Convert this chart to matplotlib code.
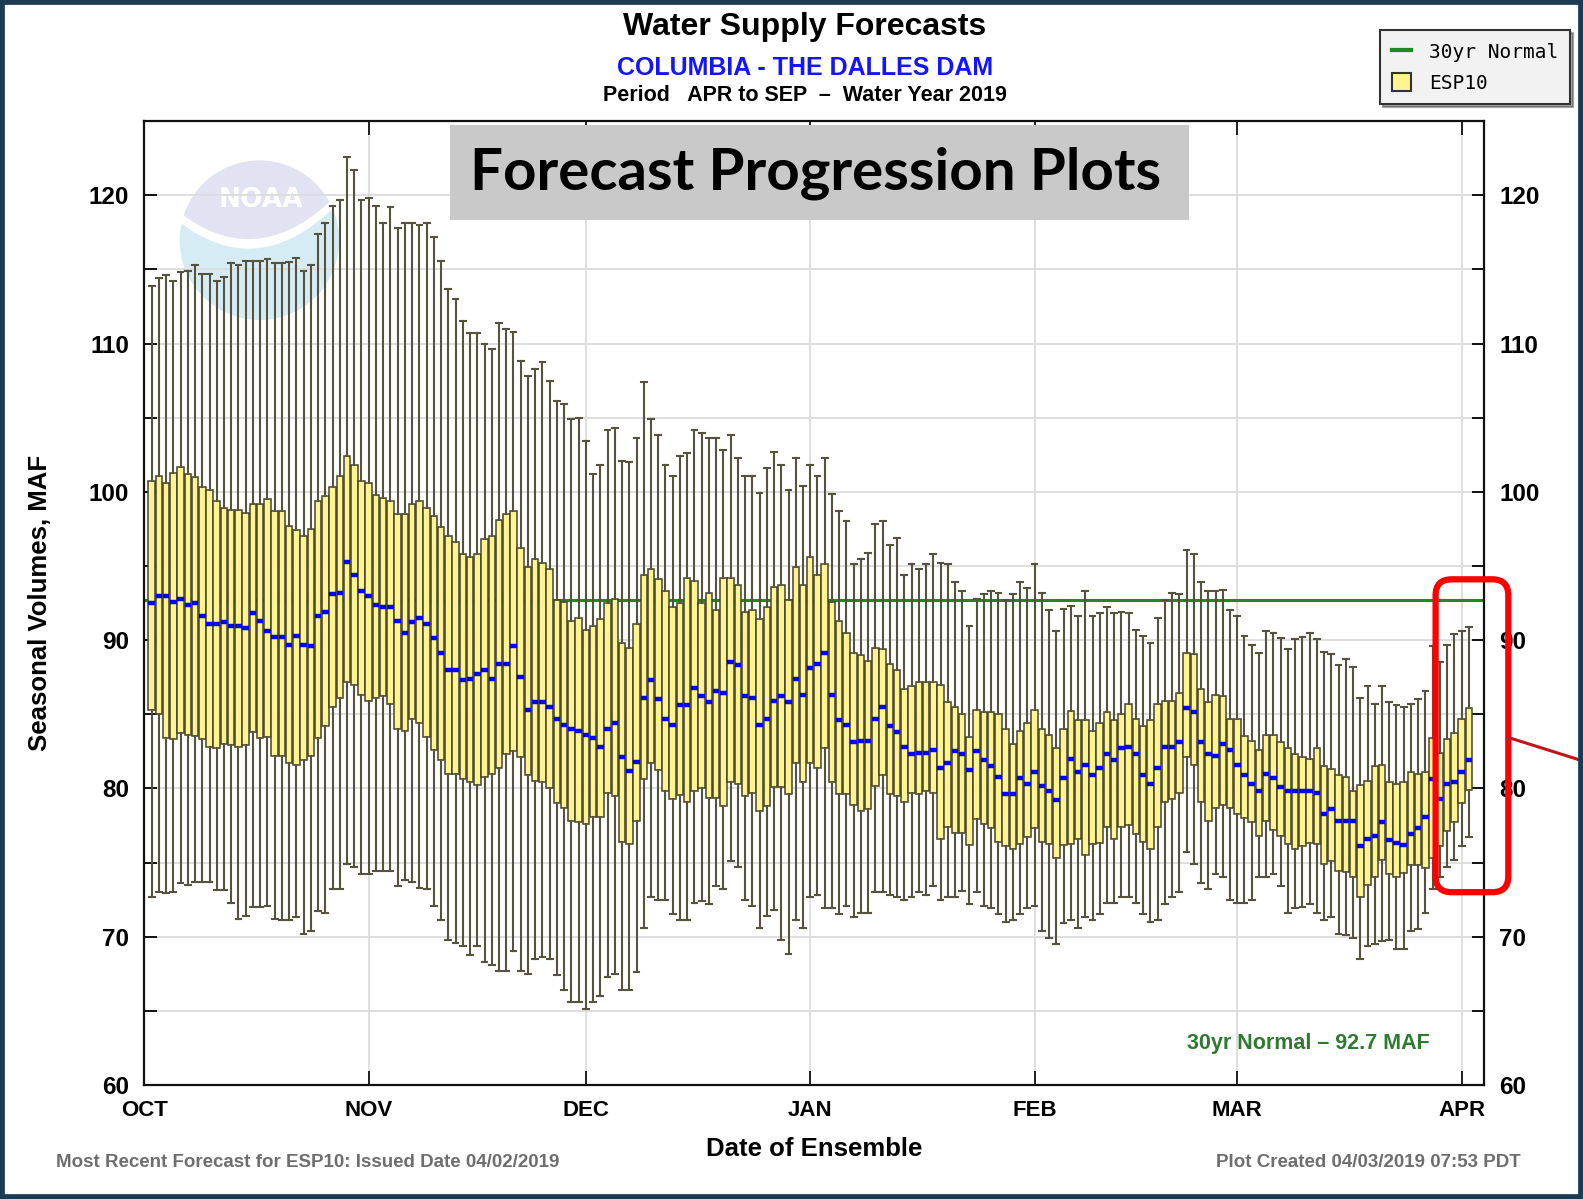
import numpy as np
import pandas as pd
import matplotlib
matplotlib.use('Agg')
import matplotlib.pyplot as plt
import matplotlib.dates as mdates
from matplotlib.patches import Rectangle, FancyBboxPatch, Circle, Patch
from matplotlib.lines import Line2D
from matplotlib.ticker import FixedLocator, MultipleLocator
from matplotlib import font_manager
from matplotlib.transforms import IdentityTransform

# ---------------- data (one value per daily ESP10 ensemble, Oct 2 2018 .. Apr 2 2019) ----------------
start_date = '2018-10-02'
normal_30yr = 92.7

whisker_high = [
    113.9, 114.4, 114.6, 114.2, 114.8, 114.9, 115.3, 114.7, 114.7, 114.2, 114.5, 115.4, 115.3, 115.55,
    115.55, 115.55, 115.7, 115.4, 115.4, 115.5, 115.8, 114.9, 115.3, 117.4, 118.1, 119.3, 119.7,
    122.6, 121.7, 119.7, 119.8, 119.3, 118.1, 119.2, 117.8, 118.1, 118.1, 118.0, 118.1, 117.2, 115.55,
    113.7, 113.0, 111.55, 110.7, 110.7, 110.0, 109.6, 111.4, 111.0, 110.8, 108.8, 107.8,
    108.3, 108.75, 107.5, 106.1, 105.9, 104.9, 105.0, 103.45, 101.2, 101.8, 104.2, 104.3, 102.1, 102.0,
    103.6, 107.4, 104.9, 103.8, 101.8, 101.05, 102.4, 102.65, 104.2, 104.0, 103.6, 103.6, 102.8, 103.8,
    102.3, 101.1, 101.1, 99.9, 101.6, 102.7, 101.8, 100.1, 102.3, 100.4, 101.8, 101.1, 102.3, 99.85,
    98.7, 98.0, 95.1, 95.5, 95.9, 97.8, 98.0, 96.4, 96.9, 94.4, 95.1, 94.8,
    95.1, 95.8, 95.2, 95.1, 93.9, 93.3, 90.95, 92.8, 93.1, 93.3, 93.2, 92.7, 93.1, 93.9, 93.5, 95.1,
    93.2, 92.0, 90.6, 92.1, 92.3, 91.6, 93.3, 91.6, 91.8, 92.2, 91.8,
    91.9, 91.8, 90.7, 90.3, 89.8, 91.5, 92.7, 93.2, 93.1, 96.1, 95.8, 93.9, 93.3, 93.3, 93.4, 92.0,
    91.6, 90.3, 89.7, 89.1, 90.6, 90.5, 90.15, 89.4, 90.1, 90.2, 90.45,
    90.1, 89.2, 89.05, 88.3, 88.7, 88.2, 86.1, 86.9, 85.7, 86.9, 85.8, 85.6, 85.5, 85.7, 86.0, 86.6,
    89.6, 88.5, 89.7, 90.4, 90.6, 90.9,
]
box_high = [
    100.7, 101.1, 100.6, 101.25, 101.7, 101.2, 101.0, 100.3, 100.1, 99.4, 98.9, 98.8, 98.8, 98.6,
    99.2, 99.2, 99.5, 98.7, 98.7, 97.7, 97.4, 97.0, 97.5, 99.4, 99.7, 100.3, 101.1,
    102.4, 101.8, 100.7, 100.6, 99.8, 99.55, 99.4, 98.5, 98.5, 99.2, 99.35, 98.9, 98.4, 97.6, 97.0,
    96.6, 95.8, 95.6, 95.8, 96.85, 97.0, 98.1, 98.5, 98.7, 96.2, 94.9,
    95.5, 95.2, 94.8, 92.7, 92.6, 91.3, 91.5, 90.7, 90.95, 91.4, 92.5, 92.8, 89.8, 89.5, 91.1, 94.4,
    94.8, 94.1, 93.3, 92.2, 92.5, 94.2, 94.0, 92.5, 93.2, 92.0, 94.2, 94.2,
    93.7, 91.9, 92.0, 91.4, 92.2, 93.6, 93.7, 92.7, 94.9, 93.7, 95.6, 94.4, 95.1, 92.6, 91.3, 90.5,
    89.1, 89.0, 88.6, 89.5, 89.4, 88.4, 88.0, 86.7, 86.9, 87.2,
    87.2, 87.2, 87.0, 85.8, 85.5, 85.0, 83.45, 85.3, 85.15, 85.15, 85.0, 84.0, 83.0, 83.9, 84.4, 85.3,
    84.0, 83.6, 82.7, 84.0, 85.2, 84.6, 84.6, 83.9, 84.4, 85.15, 84.6,
    85.0, 85.7, 84.7, 84.2, 84.6, 85.7, 85.9, 85.9, 86.4, 89.1, 89.05, 86.7, 85.8, 86.3, 86.2, 84.7,
    84.7, 83.5, 83.2, 82.6, 83.6, 83.6, 83.1, 82.7, 82.3, 82.1, 82.0,
    82.7, 81.5, 81.3, 80.9, 80.8, 79.85, 80.2, 80.5, 81.5, 81.6, 80.4, 80.3, 80.4, 81.1, 81.0, 81.1,
    83.4, 82.4, 83.3, 83.75, 84.7, 85.4,
]
median = [
    92.5, 93.0, 93.0, 92.6, 92.8, 92.4, 92.5, 91.6, 91.1, 91.1, 91.2, 90.95, 90.95, 90.8, 91.8, 91.3,
    90.6, 90.2, 90.2, 89.7, 90.3, 89.7, 89.6, 91.6, 91.9, 93.1, 93.2,
    95.3, 94.4, 93.3, 93.0, 92.4, 92.2, 92.2, 91.3, 90.5, 91.2, 91.5, 91.1, 90.15, 89.1, 88.0, 88.0,
    87.3, 87.4, 87.7, 88.0, 87.4, 88.4, 88.4, 89.6, 87.5, 85.3,
    85.8, 85.8, 85.5, 84.7, 84.3, 84.0, 83.9, 83.6, 83.4, 82.8, 84.0, 84.4, 82.1, 81.2, 81.8, 86.1,
    87.3, 86.0, 84.7, 84.3, 85.6, 85.6, 86.8, 86.2, 85.8, 86.6, 86.4, 88.5,
    88.3, 86.2, 86.1, 84.3, 84.7, 85.9, 86.2, 85.8, 87.4, 86.3, 88.1, 88.4, 89.1, 86.3, 84.6, 84.3,
    83.1, 83.2, 83.2, 84.7, 85.5, 84.2, 83.8, 82.8, 82.3, 82.4,
    82.4, 82.6, 81.4, 81.7, 82.5, 82.3, 81.25, 82.5, 81.9, 81.5, 80.8, 79.6, 79.6, 80.7, 80.3, 81.1,
    80.15, 79.85, 79.2, 80.7, 82.0, 81.1, 81.6, 80.9, 81.4, 82.3, 81.9,
    82.7, 82.8, 82.3, 80.9, 80.3, 81.4, 82.8, 82.8, 83.1, 85.4, 85.15, 83.1, 82.3, 82.2, 83.0, 82.6,
    81.6, 80.9, 80.3, 79.85, 81.0, 80.7, 80.1, 79.85, 79.85, 79.85, 79.85,
    79.7, 78.3, 78.6, 77.8, 77.8, 77.8, 76.1, 76.6, 76.8, 77.7, 76.5, 76.3, 76.2, 76.9, 77.3, 78.1,
    80.6, 79.3, 80.3, 80.4, 81.1, 81.9,
]
box_low = [
    85.3, 85.0, 83.4, 83.3, 83.75, 83.6, 83.5, 83.3, 82.8, 82.7, 83.0, 82.95, 82.8, 82.9, 83.8, 83.4,
    83.45, 82.2, 82.2, 81.7, 81.55, 81.9, 82.2, 83.4, 84.2, 85.5, 86.1,
    87.2, 87.0, 86.3, 85.9, 86.1, 86.2, 85.7, 84.0, 83.9, 84.7, 84.4, 83.45, 82.6, 81.9, 81.0, 81.0,
    80.6, 80.4, 80.2, 80.8, 81.0, 81.4, 82.3, 82.5, 82.1, 80.9,
    80.5, 80.4, 80.0, 79.0, 78.7, 77.8, 77.7, 77.6, 78.1, 78.1, 79.7, 79.5, 76.4, 76.25, 77.8, 80.6,
    81.7, 81.25, 79.85, 79.3, 79.55, 79.1, 79.85, 80.0, 79.35, 79.35, 78.8, 80.4,
    80.3, 79.5, 79.7, 78.5, 78.8, 80.1, 80.1, 79.6, 81.7, 80.4, 81.7, 81.4, 82.7, 80.4, 79.6, 79.6,
    78.9, 78.5, 78.6, 80.15, 80.9, 79.6, 79.5, 79.1, 79.7, 79.6,
    79.85, 79.7, 76.6, 77.4, 77.0, 77.0, 76.2, 77.95, 77.6, 77.3, 76.4, 76.1, 75.9, 76.25, 76.7, 77.3,
    76.4, 76.25, 75.3, 76.2, 76.25, 76.6, 75.5, 76.25, 76.3, 77.4, 76.6,
    77.4, 77.5, 76.9, 76.4, 75.9, 77.4, 79.1, 79.3, 79.7, 82.1, 81.6, 79.1, 77.8, 78.7, 78.9, 78.7,
    78.3, 78.0, 77.7, 76.8, 77.8, 77.2, 76.8, 76.25, 75.9, 76.1, 76.3,
    76.25, 74.9, 75.1, 74.4, 74.35, 74.0, 72.65, 73.5, 74.0, 75.2, 74.2, 74.0, 74.3, 74.8, 74.8, 74.6,
    75.3, 76.1, 77.1, 77.75, 79.0, 79.9,
]
whisker_low = [
    72.65, 73.0, 72.95, 73.0, 73.6, 73.5, 73.7, 73.7, 73.7, 73.15, 73.15, 72.3, 71.2, 71.4, 72.0, 72.0,
    72.1, 71.2, 71.1, 71.1, 71.3, 70.2, 70.4, 71.7, 71.6, 73.2, 73.2,
    74.9, 74.7, 74.2, 74.2, 74.4, 74.4, 74.4, 73.4, 73.8, 73.7, 73.3, 73.2, 72.1, 71.1, 69.8, 69.6,
    69.4, 68.75, 69.4, 68.3, 68.1, 67.7, 67.7, 69.05, 67.7, 67.5,
    68.5, 68.6, 68.5, 67.4, 66.4, 65.6, 65.6, 65.1, 65.6, 66.0, 67.3, 67.5, 66.4, 66.4, 67.6, 70.6,
    72.65, 72.5, 72.5, 71.5, 71.1, 71.1, 72.3, 72.4, 72.2, 73.4, 73.2, 75.1,
    74.7, 72.5, 72.1, 70.6, 71.4, 71.8, 69.8, 68.8, 71.1, 70.6, 72.7, 72.8, 71.9, 71.9, 71.5, 72.1,
    71.3, 71.6, 71.6, 73.0, 73.0, 72.8, 72.7, 72.5, 72.7, 73.0,
    72.8, 73.4, 72.5, 72.7, 72.7, 73.1, 72.2, 73.0, 72.1, 71.9, 71.5, 71.0, 71.1, 71.5, 71.9, 72.1,
    70.4, 69.9, 69.5, 70.95, 71.1, 70.6, 71.3, 71.1, 71.5, 72.3, 72.3,
    72.65, 72.7, 72.3, 71.5, 71.0, 71.1, 72.2, 72.65, 73.0, 75.7, 74.9, 73.6, 73.2, 74.2, 74.05, 72.5,
    72.3, 72.3, 72.5, 74.0, 74.0, 74.2, 73.4, 71.6, 71.9, 72.0, 72.2,
    71.6, 71.1, 71.3, 70.2, 70.1, 69.9, 68.5, 69.4, 69.5, 69.7, 69.8, 69.2, 69.2, 70.4, 70.5, 71.6,
    73.2, 74.0, 74.7, 75.2, 76.1, 76.7,
]

month_starts = ['2018-10-01', '2018-11-01', '2018-12-01', '2019-01-01',
                '2019-02-01', '2019-03-01', '2019-04-01']
month_labels = ['OCT', 'NOV', 'DEC', 'JAN', 'FEB', 'MAR', 'APR']
y_major = [60, 70, 80, 90, 100, 110, 120]

title_text = 'Water Supply Forecasts'
station_text = 'COLUMBIA - THE DALLES DAM'
period_text = 'Period   APR to SEP  \u2013  Water Year 2019'
ylabel_text = 'Seasonal Volumes, MAF'
xlabel_text = 'Date of Ensemble'
footer_left = 'Most Recent Forecast for ESP10: Issued Date 04/02/2019'
footer_right = 'Plot Created 04/03/2019 07:53 PDT'
normal_label = '30yr Normal \u2013 92.7 MAF'
overlay_text = 'Forecast Progression Plots'
legend_labels = ['30yr Normal', 'ESP10']

# ---------------- style ----------------
plt.rcParams['font.family'] = ['Liberation Sans', 'DejaVu Sans']
plt.rcParams['font.weight'] = 'bold'

W, H = 1583, 1199
SW, SH = 1568.0, 1188.0   # reference layout measured on 1568x1188 view


def fx(x):
    return x / SW


def fy(y):
    return 1 - y / SH


fig = plt.figure(figsize=(W / 100, H / 100), dpi=100)
fig.patch.set_facecolor('white')

ax = fig.add_axes([fx(143), fy(1075), fx(1470) - fx(143), fy(120) - fy(1075)])
ax.set_zorder(1)
ax.patch.set_alpha(0)

dates = pd.date_range(start_date, periods=len(median), freq='D')
pos = mdates.date2num(dates.to_pydatetime())

stats = [dict(med=m, q1=lo, q3=hi, whislo=wl, whishi=wh)
         for m, lo, hi, wl, wh in zip(median, box_low, box_high, whisker_low, whisker_high)]

ax.axhline(normal_30yr, color='#1f8a1f', lw=2.2, zorder=1.5)

ax.bxp(stats, positions=pos, widths=0.9, capwidths=0.8, patch_artist=True,
       showfliers=False, manage_ticks=False, zorder=3,
       boxprops=dict(facecolor='#fff490', edgecolor='#46432c', linewidth=1.1),
       whiskerprops=dict(color='#55533d', linewidth=1.5),
       capprops=dict(color='#55533d', linewidth=1.5),
       medianprops=dict(color='#0000ff', linewidth=3.2, solid_capstyle='butt'))

x0 = mdates.date2num(pd.Timestamp(month_starts[0]).to_pydatetime())
x_end = mdates.date2num(pd.Timestamp(month_starts[-1]).to_pydatetime()) + 3.1
ax.set_xlim(x0, x_end)
ax.set_ylim(60, 125)

month_pos = mdates.date2num(pd.to_datetime(month_starts).to_pydatetime())
ax.xaxis.set_major_locator(FixedLocator(month_pos))
ax.set_xticklabels(month_labels)
ax.yaxis.set_major_locator(FixedLocator(y_major))
ax.yaxis.set_minor_locator(MultipleLocator(5))

ax.set_axisbelow(True)
ax.grid(axis='y', which='both', color='#dcdcdc', lw=1.3)
ax.grid(axis='x', which='major', color='#dcdcdc', lw=1.3)

ax.tick_params(axis='y', which='both', direction='in', length=9, width=1.3,
               left=True, right=True, labelleft=True, labelright=True)
ax.tick_params(axis='y', which='major', labelsize=17.5, pad=11)
ax.tick_params(axis='x', which='major', direction='in', length=10, width=1.2,
               top=True, bottom=True, labelsize=16, pad=11)
for sp in ax.spines.values():
    sp.set_linewidth(1.6)
    sp.set_color('#111111')

ax.text((1416 - 143) / (1470 - 143), (1075 - 1034) / (1075 - 120), normal_label,
        transform=ax.transAxes, ha='right', va='center', fontsize=15.5,
        color='#2e7a2e', fontweight='bold', zorder=5)

# ---------------- NOAA watermark ----------------
lax = fig.add_axes([fx(174), fy(322), fx(340) - fx(174), fy(154) - fy(322)])
lax.set_zorder(0)
lax.set_xlim(-1.05, 1.05)
lax.set_ylim(-1.05, 1.05)
lax.set_aspect('equal', adjustable='datalim')
lax.axis('off')
circ = Circle((0, 0), 1.0, transform=lax.transData, facecolor='none', edgecolor='none')
lax.add_patch(circ)
xs = np.linspace(-1.1, 1.1, 200)
swoosh = 0.45 * xs ** 2 + 0.13 * xs - 0.02
up = lax.fill_between(xs, swoosh + 0.05, 1.2, color='#e1e2f2', lw=0)
dn = lax.fill_between(xs, -1.2, swoosh - 0.07, color='#d6ecf5', lw=0)
up.set_clip_path(circ)
dn.set_clip_path(circ)
lax.text(0.02, 0.5, 'NOAA', color='white', fontsize=19, fontweight='bold',
         ha='center', va='center', family='DejaVu Sans')

# ---------------- titles and labels ----------------
fig.text(fx(797), fy(27), title_text, ha='center', va='center', fontsize=23, fontweight='bold')
fig.text(fx(797), fy(67), station_text, ha='center', va='center', fontsize=18,
         fontweight='bold', color='#1414ff')
fig.text(fx(797), fy(95), period_text, ha='center', va='center', fontsize=15.5, fontweight='bold')
fig.text(fx(40), fy(597), ylabel_text, ha='center', va='center', rotation=90,
         fontsize=18.5, fontweight='bold')
fig.text(fx(806), fy(1138), xlabel_text, ha='center', va='center', fontsize=18.5, fontweight='bold')
fig.text(fx(55), fy(1152), footer_left, ha='left', va='center', fontsize=13.5,
         fontweight='bold', color='#6e6e6e')
fig.text(fx(1506), fy(1152), footer_right, ha='right', va='center', fontsize=13.5,
         fontweight='bold', color='#6e6e6e')

# ---------------- legend ----------------
handles = [Line2D([], [], color='#1f8a1f', lw=3),
           Patch(facecolor='#fff490', edgecolor='#333333', lw=1.5)]
leg = fig.legend(handles, legend_labels, loc='upper right',
                 bbox_to_anchor=(fx(1555), fy(30)), frameon=True, fancybox=False,
                 shadow=True, facecolor='#f2f2f2', edgecolor='#333333', framealpha=1,
                 prop=dict(family='DejaVu Sans Mono', size=14, weight='normal'),
                 handlelength=1.0, handleheight=1.1, handletextpad=0.9,
                 borderpad=0.6, labelspacing=0.55, borderaxespad=0)
leg.get_frame().set_linewidth(1.5)
leg.set_zorder(6)

# ---------------- overlay annotation ----------------
fig.add_artist(Rectangle((fx(446), fy(218)), fx(1178) - fx(446), fy(124) - fy(218),
                         transform=fig.transFigure, facecolor='#c9c9c9', edgecolor='none',
                         zorder=5))
names = {f.name for f in font_manager.fontManager.ttflist}
big_family = 'Lato' if 'Lato' in names else 'DejaVu Sans'
big = fig.text(fx(808), fy(172), overlay_text, ha='center', va='center', fontsize=40,
               fontweight='bold', family=big_family, color='black', zorder=6)
renderer = fig.canvas.get_renderer()
target_w = (1150 - 466) * W / SW
cur_w = big.get_window_extent(renderer).width
big.set_fontsize(40 * target_w / cur_w)

# red highlight box and pointer line (pixel coordinates of the figure)
sx, sy = W / SW, H / SH
rb = FancyBboxPatch((1422 * sx, H - 884 * sy), 72 * sx, 310 * sy,
                    boxstyle='round,pad=0,rounding_size=16', transform=IdentityTransform(),
                    facecolor='none', edgecolor='#ff0000', lw=4.5, zorder=7)
fig.add_artist(rb)
fig.add_artist(Line2D([1495 * sx, W], [H - 731 * sy, H - 754 * sy], transform=IdentityTransform(),
                      color='#c0151b', lw=2.2, zorder=7))

# frame around the slide image
fig.add_artist(Rectangle((0, 0), 1, 1, transform=fig.transFigure, facecolor='none',
                         edgecolor='#1b3b52', lw=7, zorder=8))

fig.savefig('out.png', dpi=100)
